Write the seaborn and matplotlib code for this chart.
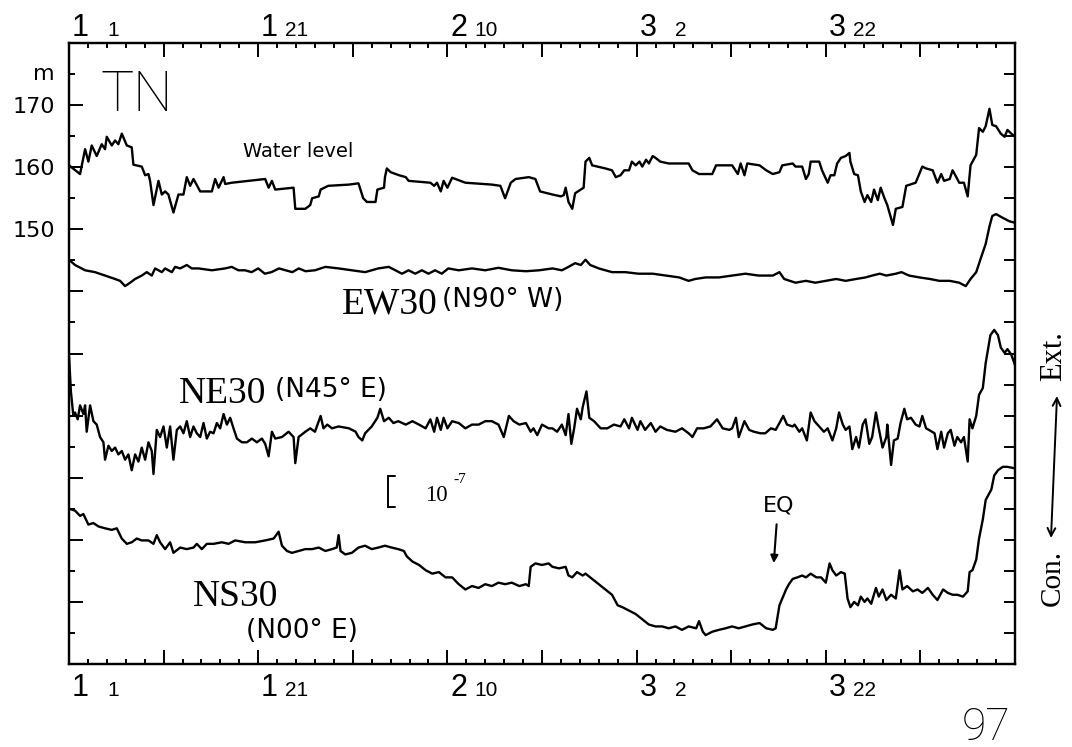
import numpy as np
import matplotlib
matplotlib.use('Agg')
import matplotlib.pyplot as plt
import matplotlib.transforms as mtransforms
import seaborn as sns

# x values are days since 1 Jan 1997
# water level in m (left axis), strains in units of 1e-7 (right axis)
water_day = [0, 1.17, 1.70, 2.05, 2.40, 2.93, 3.46, 3.81, 3.99, 4.52,
             4.87, 5.22, 5.58, 6.11, 6.63, 6.81, 7.69, 8.05, 8.40, 8.57,
             8.93, 9.46, 9.81, 10.16, 10.51, 11.04, 11.57, 12.10, 12.45, 12.81,
             13.16, 13.87, 15.10, 15.45, 15.81, 16.34, 16.51, 17.22, 20.74, 21.10,
             21.45, 21.80, 23.74, 23.92, 24.98, 25.5, 25.7, 26.4, 26.6, 27.4,
             29.6, 30.6, 31.1, 31.5, 32.4, 32.6, 33.3, 33.4, 33.6, 34.0,
             34.9, 35.6, 35.9, 38.2, 38.6, 38.9, 39.3, 39.6, 40.0, 40.5,
             41.9, 44.7, 45.6, 46.1, 46.7, 47.2, 48.6, 49.3, 49.8, 51.1,
             52.0, 52.3, 52.5, 52.8, 53.2, 53.5, 54.4, 54.6, 55.0, 55.3,
             56.7, 57.4, 57.8, 58.3, 58.7, 59.2, 59.5, 59.9, 60.3, 60.6,
             61.0, 61.3, 61.7, 62.0, 62.5, 63.4, 65.5, 65.9, 66.6, 68.0,
             68.4, 70.1, 70.7, 71.0, 71.4, 71.7, 73.0, 73.7, 74.4, 75.1,
             75.4, 76.5, 76.8, 77.5, 77.9, 78.2, 78.4, 79.3, 79.6, 80.2,
             80.5, 80.9, 81.2, 81.6, 82.1, 82.5, 82.6, 83.0, 83.4, 83.7,
             84.1, 84.4, 84.8, 85.1, 85.5, 85.8, 86.2, 86.5, 87.1, 87.4,
             88.1, 88.5, 89.5, 90.2, 90.6, 91.3, 91.8, 92.2, 92.5, 93.1,
             93.4, 93.8, 94.1, 94.6, 95.0, 95.3, 95.9, 96.2, 96.6, 96.9,
             97.3, 97.6, 98.0, 98.5, 98.9, 99.2, 99.75, 100]
water_level = [160.3, 158.9, 162.9, 160.9, 163.5, 161.8, 163.7, 162.9, 164.9, 163.5,
               164.3, 163.7, 165.4, 163.5, 163.2, 160.4, 160.1, 158.7, 158.9, 157.8,
               153.9, 157.8, 155.6, 156.1, 155.6, 152.7, 155.6, 155.6, 158.4, 157.0,
               158.1, 156.1, 156.1, 158.1, 156.7, 158.4, 157.3, 157.5, 158.1, 156.7,
               157.8, 156.4, 156.7, 153.3, 153.3, 153.9, 155.0, 155.3, 156.4, 157.0,
               157.2, 157.4, 155.0, 154.4, 154.4, 156.4, 156.7, 158.4, 159.8, 159.2,
               158.7, 158.4, 157.8, 157.5, 157.0, 157.5, 156.1, 157.8, 156.7, 158.3,
               157.5, 157.2, 157.0, 155.0, 157.5, 158.1, 158.4, 158.1, 156.1, 155.6,
               155.3, 155.5, 156.7, 154.4, 153.3, 155.8, 156.7, 160.9, 161.5, 160.3,
               159.8, 159.5, 158.4, 158.7, 159.5, 159.5, 160.9, 160.3, 160.9, 160.1,
               161.2, 160.6, 161.8, 161.5, 160.9, 160.6, 160.6, 159.5, 158.9, 158.9,
               160.3, 160.3, 158.9, 160.6, 158.7, 160.6, 160.3, 159.5, 158.9, 159.2,
               160.3, 160.6, 160.1, 160.1, 158.1, 158.9, 160.9, 160.9, 159.5, 157.5,
               158.7, 158.7, 160.6, 161.5, 161.8, 162.3, 160.9, 158.9, 158.7, 156.1,
               154.4, 155.5, 154.4, 156.4, 154.7, 156.7, 155.0, 153.9, 150.7, 153.3,
               153.6, 157.0, 157.5, 160.1, 159.8, 159.5, 157.5, 158.9, 157.8, 158.1,
               159.5, 158.4, 157.5, 157.5, 155.3, 160.3, 162.0, 166.3, 165.7, 166.6,
               169.4, 166.8, 166.6, 165.4, 164.9, 166.0, 165.2, 165.0]

ew30_day = [0, 0.64, 1.70, 2.75, 3.81, 4.87, 5.40, 5.93, 6.46, 6.99,
            7.69, 8.22, 8.75, 9.1, 9.81, 10.16, 10.87, 11.22, 11.75, 12.45,
            12.98, 13.69, 15.1, 16.5, 17.2, 17.9, 18.6, 19.3, 20.0, 20.7,
            21.4, 22.2, 22.9, 23.6, 24.3, 25.0, 26.0, 27.1, 28.5, 29.9,
            31.3, 32.7, 33.8, 34.5, 35.2, 35.9, 36.6, 37.3, 38.0, 38.7,
            39.4, 40.1, 41.2, 42.6, 44.0, 45.4, 46.8, 48.3, 49.7, 51.1,
            52.1, 52.8, 53.5, 54.1, 54.6, 55.1, 56.0, 57.4, 58.8, 60.2,
            61.7, 63.1, 64.5, 65.5, 66.2, 67.3, 68.7, 70.1, 71.5, 72.9,
            74.4, 75.1, 75.6, 76.8, 77.9, 78.9, 80.0, 81.1, 82.1, 83.2,
            84.2, 84.9, 85.7, 86.4, 87.4, 88.0, 88.8, 89.9, 91.0, 92.0,
            93.1, 94.1, 94.8, 95.3, 95.9, 96.4, 96.9, 97.3, 97.6, 98.0,
            98.7, 99.4, 100]
ew30 = [13.02, 12.85, 12.68, 12.62, 12.51, 12.40, 12.34, 12.17, 12.28, 12.40,
        12.51, 12.62, 12.51, 12.74, 12.62, 12.74, 12.62, 12.79, 12.74, 12.85,
        12.74, 12.74, 12.68, 12.74, 12.79, 12.68, 12.68, 12.62, 12.74, 12.57,
        12.62, 12.74, 12.68, 12.62, 12.74, 12.65, 12.68, 12.79, 12.74, 12.68,
        12.62, 12.74, 12.79, 12.68, 12.57, 12.68, 12.57, 12.68, 12.57, 12.68,
        12.57, 12.74, 12.68, 12.74, 12.68, 12.76, 12.68, 12.65, 12.68, 12.74,
        12.68, 12.79, 12.91, 12.85, 13.02, 12.85, 12.74, 12.62, 12.62, 12.57,
        12.57, 12.51, 12.45, 12.34, 12.40, 12.45, 12.45, 12.51, 12.57, 12.51,
        12.51, 12.62, 12.40, 12.28, 12.34, 12.28, 12.34, 12.40, 12.34, 12.40,
        12.45, 12.51, 12.57, 12.51, 12.57, 12.62, 12.51, 12.45, 12.40, 12.34,
        12.34, 12.28, 12.17, 12.40, 12.62, 13.08, 13.53, 14.09, 14.43, 14.49,
        14.37, 14.26, 14.21]

ne30_day = [0, 0.2, 0.46, 0.64, 0.92, 1.17, 1.52, 1.70, 1.87, 2.23,
            2.58, 2.93, 3.28, 3.64, 3.81, 4.17, 4.52, 4.87, 5.22, 5.58,
            5.93, 6.28, 6.63, 6.99, 7.34, 7.69, 8.05, 8.40, 8.75, 8.93,
            9.28, 9.63, 9.99, 10.34, 10.69, 11.04, 11.40, 11.75, 12.10, 12.45,
            12.81, 13.16, 13.51, 13.87, 14.22, 14.57, 14.92, 15.28, 15.63, 15.98,
            16.34, 16.69, 17.04, 17.39, 17.75, 18.28, 18.80, 19.33, 19.86, 20.39,
            20.74, 21.10, 21.45, 21.80, 22.51, 23.21, 23.74, 23.92, 24.27, 24.98,
            25.5, 26.0, 26.6, 26.9, 27.3, 27.8, 28.5, 29.6, 30.3, 30.6,
            31.0, 31.3, 32.0, 32.6, 32.9, 33.3, 33.8, 34.3, 34.8, 35.6,
            36.3, 37.0, 37.7, 38.2, 38.6, 38.9, 39.3, 39.6, 40.0, 40.5,
            41.2, 41.9, 42.6, 43.3, 44.0, 44.7, 45.4, 45.96, 46.5, 47.0,
            47.6, 48.3, 48.8, 49.1, 49.5, 50.0, 50.7,
            51.1, 51.6, 52.1, 52.5, 52.8, 53.1, 53.4, 53.7, 54.1, 54.3,
            54.7, 55.0, 55.5, 56.2, 56.9, 57.6, 58.3, 58.7, 59.2, 59.5,
            60.1, 60.4, 60.9, 61.5, 62.0, 62.5, 63.2, 64.1, 64.8, 65.5,
            65.9, 66.4, 67.1, 67.8, 68.5, 69.1, 69.8, 70.1, 70.5, 70.8,
            71.4, 71.9, 72.4, 73.1, 73.6, 74.2, 74.7, 75.1, 75.5, 75.9,
            76.5,
            76.7, 77.2, 77.5, 78.0, 78.4, 78.8, 79.3, 79.8, 80.2, 80.7,
            81.1, 81.4, 81.8, 82.1, 82.5, 82.8, 83.2, 83.5, 83.9, 84.2,
            84.6, 84.9, 85.3, 85.6, 86.0, 86.4, 86.5, 86.9, 87.2, 87.6,
            87.9, 88.3, 88.6, 89.0, 89.5, 89.9, 90.2, 90.6, 90.9, 91.5,
            91.8, 92.2, 92.5, 92.9, 93.2, 93.6, 93.9, 94.3, 94.6, 95.0,
            95.2, 95.5, 95.9, 96.2, 96.6, 96.9, 97.4, 97.8, 98.2, 98.5,
            98.9, 99.2, 99.6, 100]
ne30 = [9.95, 8.78, 7.99, 8.10, 7.88, 8.33, 8.05, 8.33, 7.48, 8.33,
        7.82, 7.71, 7.31, 7.14, 6.58, 7.03, 6.86, 6.97, 6.75, 6.86,
        6.58, 6.75, 6.24, 6.75, 6.52, 6.97, 6.58, 7.14, 6.86, 6.12,
        7.54, 7.31, 7.65, 6.97, 7.65, 6.58, 7.54, 7.65, 7.43, 7.82,
        7.31, 7.65, 7.43, 7.31, 7.76, 7.26, 7.48, 7.43, 7.76, 7.59,
        8.05, 7.71, 7.93, 7.59, 7.26, 7.14, 7.14, 7.26, 7.14, 7.26,
        7.09, 6.69, 7.48, 7.26, 7.31, 7.48, 7.31, 6.47, 7.31, 7.48,
        7.59, 7.48, 7.99, 7.59, 7.71, 7.59, 7.65, 7.59, 7.48, 7.31,
        7.20, 7.43, 7.65, 7.93, 8.22, 7.82, 7.93, 7.76, 7.82, 7.71,
        7.82, 7.71, 7.59, 7.88, 7.48, 7.93, 7.54, 7.93, 7.59, 7.82,
        7.76, 7.59, 7.71, 7.71, 7.82, 7.82, 7.71, 7.31, 7.99, 7.82,
        7.71, 7.76, 7.48, 7.59, 7.37, 7.71, 7.59,
        7.59, 7.48, 7.71, 7.37, 8.05, 7.09, 7.59, 8.22, 7.88, 8.27,
        8.78, 7.93, 7.82, 7.59, 7.59, 7.71, 7.65, 7.88, 7.59, 7.93,
        7.54, 7.82, 7.54, 7.76, 7.48, 7.65, 7.54, 7.48, 7.59, 7.43,
        7.31, 7.59, 7.59, 7.65, 7.88, 7.59, 7.54, 7.59, 7.93, 7.31,
        7.82, 7.54, 7.48, 7.43, 7.43, 7.59, 7.54, 7.76, 7.99, 7.71,
        7.65,
        7.71, 7.48, 7.59, 7.20, 8.10, 7.82, 7.65, 7.48, 7.59, 7.20,
        7.59, 8.10, 7.71, 7.54, 7.65, 6.92, 7.31, 6.97, 7.71, 7.88,
        7.09, 7.31, 8.10, 7.59, 6.97, 7.31, 7.71, 6.41, 7.20, 7.26,
        7.76, 8.22, 7.88, 7.93, 7.71, 7.65, 7.99, 7.59, 7.54, 7.43,
        6.92, 7.48, 6.97, 7.43, 7.54, 7.03, 7.31, 7.14, 7.31, 6.52,
        7.88, 7.59, 7.99, 8.67, 8.89, 9.69, 10.59, 10.76, 10.59, 10.19,
        10.02, 10.14, 9.97, 9.63]

ns30_day = [0, 0.64, 1.17, 1.52, 2.05, 2.58, 3.11, 3.81, 4.52, 5.05,
            5.58, 6.11, 6.63, 7.16, 7.69, 8.40, 8.93, 9.28, 9.63, 10.16,
            10.69, 11.04, 11.75, 12.45, 13.16, 13.51, 14.04, 14.57, 15.28, 16.16,
            16.86, 17.57, 18.63, 19.69, 20.74, 21.63, 22.16, 22.51, 23.04, 23.57,
            24.27, 24.98,
            25.7, 26.4, 27.1, 27.8, 28.3, 28.5, 28.7, 29.2, 29.9, 30.6,
            31.3, 32.0, 32.7, 33.4, 34.1, 34.8, 35.4, 35.7, 36.3, 37.0,
            37.7, 38.4, 39.1, 39.8, 40.5, 41.2, 41.9, 42.6, 43.3, 44.0,
            44.7, 45.4, 46.1, 46.8, 47.6, 48.3, 48.6, 48.8, 49.3, 50.0,
            50.7,
            51.1, 51.8, 52.5, 52.8, 53.2, 53.7, 54.3, 54.6, 55.3, 56.0,
            56.7, 57.4, 58.0, 58.5, 59.2, 59.9, 60.6, 61.3, 62.0, 62.7,
            63.4, 64.1, 64.8, 65.5, 66.3, 66.6, 67.0, 67.3, 68.0, 68.7,
            69.4, 70.1, 70.8, 71.5, 72.2, 73.0, 73.7, 74.4, 74.7, 75.1,
            75.4, 75.8,
            76.1, 76.5, 77.0, 77.5, 77.9, 78.4, 79.0, 79.5, 80.0, 80.4,
            80.7, 81.1, 81.6, 82.0, 82.3, 82.6, 83.0, 83.4, 83.7, 84.1,
            84.4, 84.8, 85.3, 85.6, 86.0, 86.4, 86.9, 87.4, 87.8, 88.1,
            88.6, 89.2, 89.7, 90.2, 90.8, 91.3, 91.8, 92.4, 92.9, 93.4,
            93.9, 94.5, 95.0, 95.2, 95.5, 95.9, 96.2, 96.6, 96.9, 97.5,
            97.8, 98.2, 98.7, 99.2, 100]
ns30 = [5.00, 4.94, 4.77, 4.83, 4.49, 4.54, 4.43, 4.37, 4.32, 4.37,
        4.04, 3.87, 3.92, 4.04, 3.98, 3.98, 3.87, 4.15, 3.92, 3.70,
        3.92, 3.58, 3.75, 3.70, 3.75, 3.87, 3.70, 3.87, 3.87, 3.92,
        3.87, 3.98, 3.92, 3.92, 3.98, 4.04, 4.26, 3.81, 3.64, 3.58,
        3.64, 3.70,
        3.70, 3.75, 3.64, 3.70, 3.75, 4.15, 3.64, 3.53, 3.58, 3.75,
        3.81, 3.70, 3.75, 3.81, 3.75, 3.70, 3.64, 3.47, 3.30, 3.19,
        3.02, 2.91, 2.96, 2.79, 2.79, 2.57, 2.40, 2.51, 2.45, 2.57,
        2.51, 2.62, 2.57, 2.62, 2.51, 2.57, 2.51, 3.13, 3.24, 3.19,
        3.24,
        3.13, 3.08, 3.13, 2.85, 2.79, 2.96, 2.85, 2.91, 2.74, 2.57,
        2.40, 2.23, 1.89, 1.83, 1.72, 1.61, 1.44, 1.27, 1.21, 1.21,
        1.15, 1.21, 1.10, 1.21, 1.15, 1.38, 1.04, 0.93, 1.04, 1.10,
        1.15, 1.21, 1.15, 1.21, 1.27, 1.32, 1.15, 1.10, 1.15, 1.89,
        2.11, 2.40,
        2.57, 2.74, 2.79, 2.85, 2.79, 2.91, 2.79, 2.79, 2.62, 3.24,
        3.02, 2.85, 2.96, 2.91, 2.11, 1.83, 2.00, 1.89, 2.17, 2.00,
        2.11, 1.94, 2.45, 2.17, 2.40, 2.06, 2.23, 2.11, 3.02, 2.40,
        2.51, 2.34, 2.40, 2.29, 2.45, 2.23, 2.06, 2.40, 2.29, 2.23,
        2.23, 2.17, 2.34, 2.96, 3.02, 3.36, 4.04, 4.66, 5.28, 5.62,
        6.07, 6.24, 6.35, 6.35, 6.30]

# date labels: month digit + day of month
label_day = [0, 20, 40, 60, 80]
label_month = ['1', '1', '2', '3', '3']
label_dom = ['1', '21', '10', '2', '22']

eq_day = 74.5
scale_bar = 1.0  # 10^-7

assert len(water_day) == len(water_level)
assert len(ew30_day) == len(ew30)
assert len(ne30_day) == len(ne30)
assert len(ns30_day) == len(ns30)

sns.set_style('ticks')
plt.rcParams['font.family'] = ['DejaVu Sans']
plt.rcParams['text.color'] = 'black'
plt.rcParams['axes.edgecolor'] = 'black'
plt.rcParams['xtick.color'] = 'black'
plt.rcParams['ytick.color'] = 'black'

W, H = 1072, 747
fig = plt.figure(figsize=(W / 100, H / 100), dpi=100)
ax = fig.add_axes([69 / W, 1 - 664 / H, 946 / W, 621 / H])
ax2 = ax.twinx()


def px(x, y):
    # reference pixel -> figure fraction
    return x / W, 1 - y / H


sns.lineplot(x=water_day, y=water_level, ax=ax, color='black', linewidth=1.7,
             estimator=None, sort=False)
for d, v in [(ew30_day, ew30), (ne30_day, ne30), (ns30_day, ns30)]:
    sns.lineplot(x=d, y=v, ax=ax2, color='black', linewidth=1.7,
                 estimator=None, sort=False)

ax.set_xlim(0, 100)
ax.set_ylim(80, 180)
ax2.set_ylim(0, 20)
ax.set_xlabel('')
ax.set_ylabel('')
ax2.set_ylabel('')

# x ticks, every 10 days with minor every 2 days, on top and bottom
ax.set_xticks(np.arange(0, 101, 10))
ax.set_xticks(np.arange(0, 101, 2), minor=True)
ax.tick_params(axis='x', which='both', direction='in', top=True, bottom=True,
               labelbottom=False, labeltop=False, width=1.4)
ax.tick_params(axis='x', which='major', length=10)
ax.tick_params(axis='x', which='minor', length=3.5)

# left axis in metres
ax.set_yticks(np.arange(80, 181, 10))
ax.set_yticks(np.arange(80, 181, 5), minor=True)
ax.set_yticklabels(['150' if t == 150 else '160' if t == 160 else '170' if t == 170 else ''
                    for t in range(80, 181, 10)])
ax.tick_params(axis='y', which='both', direction='in', left=True, right=False,
               width=1.4, pad=10, labelsize=16, labelcolor='black')
ax.tick_params(axis='y', which='major', length=10)
ax.tick_params(axis='y', which='minor', length=4.5)

# right axis, one tick per 10^-7
ax2.set_yticks(np.arange(0, 21, 1))
ax2.tick_params(axis='y', direction='in', length=8, width=1.4, labelright=False)

for a in (ax, ax2):
    for s in a.spines.values():
        s.set_linewidth(1.6)
        s.set_edgecolor('black')

# date labels above and below the frame
blend = mtransforms.blended_transform_factory(ax.transData, ax.transAxes)
for d, m, dd in zip(label_day, label_month, label_dom):
    for yb in (1.0113, -0.0515):
        ax.text(d + 0.3, yb, m, transform=blend, ha='left', va='baseline',
                fontsize=22, family='Liberation Sans')
        ax.text(d + 5.3, yb, dd, transform=blend, ha='right', va='baseline',
                fontsize=15, family='Liberation Sans')

fig.text(*px(55, 80), 'm', ha='right', va='baseline', fontsize=16)

thin = ['Roboto', 'DejaVu Sans']
fig.text(*px(100, 111), 'TN', ha='left', va='baseline', fontsize=40,
         family=thin, fontweight='light')
fig.text(*px(1010, 740), '97', ha='right', va='baseline', fontsize=32,
         family=thin, fontweight='light')

fig.text(*px(243, 157), 'Water level', ha='left', va='baseline', fontsize=14)

serif = 'Liberation Serif'
fig.text(*px(342, 314), 'EW30', ha='left', va='baseline', fontsize=27, family=serif)
fig.text(*px(442, 307), '(N90\u00b0 W)', ha='left', va='baseline', fontsize=19)
fig.text(*px(179, 403), 'NE30', ha='left', va='baseline', fontsize=27, family=serif)
fig.text(*px(275, 397), '(N45\u00b0 E)', ha='left', va='baseline', fontsize=19)
fig.text(*px(193, 606), 'NS30', ha='left', va='baseline', fontsize=27, family=serif)
fig.text(*px(246, 638), '(N00\u00b0 E)', ha='left', va='baseline', fontsize=19)

# 10^-7 scale bar
bar_x, bar_y = 33.7, 5.05
ax2.plot([bar_x + 0.8, bar_x, bar_x, bar_x + 0.8],
         [bar_y, bar_y, bar_y + scale_bar, bar_y + scale_bar],
         color='black', lw=1.4, solid_joinstyle='miter')
fig.text(*px(425, 501), '10', ha='left', va='baseline', fontsize=16.5, family=serif)
fig.text(*px(453, 483), '-7', ha='left', va='baseline', fontsize=11, family=serif)

# earthquake marker
ax2.text(eq_day + 0.5, 5.1, 'EQ', ha='center', va='center', fontsize=16)
ax2.annotate('', xy=(eq_day, 3.25), xytext=(eq_day + 0.3, 4.5),
             arrowprops=dict(arrowstyle='-|>', lw=1.5, color='black',
                             mutation_scale=11, shrinkA=0, shrinkB=0))

# contraction / extension direction on the right
fig.text(*px(1054, 356), 'Ext.', ha='center', va='center', rotation=90,
         fontsize=22, family=serif)
fig.text(*px(1053, 578), 'Con.', ha='center', va='center', rotation=90,
         fontsize=21, family=serif)
ax.annotate('', xy=px(1057, 396), xytext=px(1051, 538),
            xycoords='figure fraction', textcoords='figure fraction',
            arrowprops=dict(arrowstyle='<->', lw=1.4, color='black',
                            mutation_scale=14, shrinkA=0, shrinkB=0),
            annotation_clip=False)

fig.savefig('out.png', dpi=100)
